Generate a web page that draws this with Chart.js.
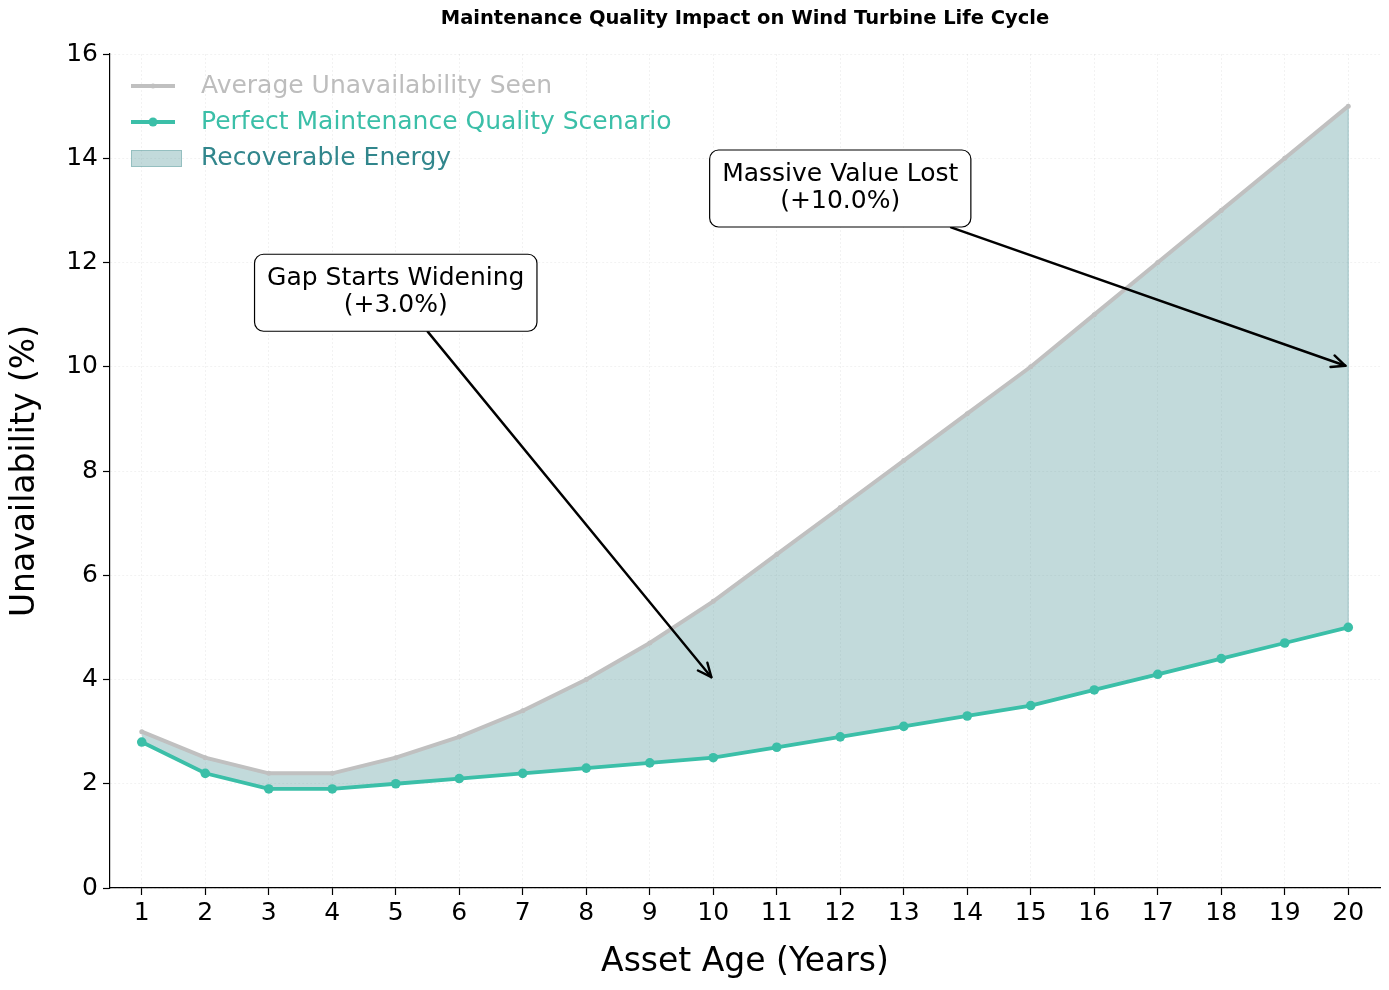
<!DOCTYPE html>
<html><head><meta charset="utf-8">
<script src="https://cdn.jsdelivr.net/npm/chart.js@4.4.0/dist/chart.umd.min.js"></script>
<style>html,body{margin:0;padding:0;background:#fff;} canvas{display:block;}</style>
</head><body>
<canvas id="c" width="1389" height="990"></canvas>
<script>
const years = ['1','2','3','4','5','6','7','8','9','10','11','12','13','14','15','16','17','18','19','20'];
const averageUnavailability = [3.0,2.5,2.2,2.2,2.5,2.9,3.4,4.0,4.7,5.5,6.4,7.3,8.2,9.1,10.0,11.0,12.0,13.0,14.0,15.0];
const perfectMaintenance = [2.8,2.2,1.9,1.9,2.0,2.1,2.2,2.3,2.4,2.5,2.7,2.9,3.1,3.3,3.5,3.8,4.1,4.4,4.7,5.0];
const seriesNames = ['Average Unavailability Seen','Perfect Maintenance Quality Scenario','Recoverable Energy'];
const chartTitle = 'Maintenance Quality Impact on Wind Turbine Life Cycle';
const xTitle = 'Asset Age (Years)';
const yTitle = 'Unavailability (%)';
const annotationsList = [
  {lines:['Gap Starts Widening','(+3.0%)'], textAt:['5',11.42], tip:['10',4]},
  {lines:['Massive Value Lost','(+10.0%)'], textAt:['12',13.42], tip:['20',10]}
];

const FONT = '"DejaVu Sans", sans-serif';
const GRAY = '#c0c0c0';
const TEAL = '#3bbfa8';
const FILL = 'rgba(95,158,160,0.38)';
const FILLEDGE = 'rgba(95,158,160,0.55)';
const FILLTEXT = '#31868c';

function arrow(ctx, x0, y0, x1, y1){
  ctx.save();
  ctx.strokeStyle = '#000'; ctx.lineWidth = 2.4; ctx.lineCap = 'round'; ctx.lineJoin='round';
  ctx.beginPath(); ctx.moveTo(x0,y0); ctx.lineTo(x1,y1); ctx.stroke();
  const a = Math.atan2(y1-y0, x1-x0), L = 15, h = 0.42;
  ctx.beginPath();
  ctx.moveTo(x1 - L*Math.cos(a-h), y1 - L*Math.sin(a-h));
  ctx.lineTo(x1, y1);
  ctx.lineTo(x1 - L*Math.cos(a+h), y1 - L*Math.sin(a+h));
  ctx.stroke();
  ctx.restore();
}
function roundRect(ctx,x,y,w,h,r){
  ctx.beginPath();
  ctx.moveTo(x+r,y); ctx.lineTo(x+w-r,y); ctx.arcTo(x+w,y,x+w,y+r,r);
  ctx.lineTo(x+w,y+h-r); ctx.arcTo(x+w,y+h,x+w-r,y+h,r);
  ctx.lineTo(x+r,y+h); ctx.arcTo(x,y+h,x,y+h-r,r);
  ctx.lineTo(x,y+r); ctx.arcTo(x,y,x+r,y,r); ctx.closePath();
}

const fillEdge = {
  id:'fillEdge',
  beforeDatasetsDraw(chart){
    const ctx = chart.ctx, xs = chart.scales.x, ys = chart.scales.y;
    const i = years.length - 1;
    const x = xs.getPixelForValue(i);
    ctx.save();
    ctx.strokeStyle = FILLEDGE; ctx.lineWidth = 1;
    ctx.beginPath();
    ctx.moveTo(x, ys.getPixelForValue(averageUnavailability[i]));
    ctx.lineTo(x, ys.getPixelForValue(perfectMaintenance[i]));
    ctx.stroke();
    ctx.restore();
  }
};

const decor = {
  id:'decor',
  afterDraw(chart){
    const ctx = chart.ctx, xs = chart.scales.x, ys = chart.scales.y, ca = chart.chartArea;
    ctx.save();
    ctx.fillStyle = '#000'; ctx.textAlign='center'; ctx.textBaseline='middle';
    ctx.font = 'bold 19.5px ' + FONT;
    ctx.fillText(chartTitle, (ca.left+ca.right)/2, 19);
    ctx.font = '33px ' + FONT;
    ctx.fillText(xTitle, (ca.left+ca.right)/2, 962);
    ctx.save(); ctx.translate(25, (ca.top+ca.bottom)/2); ctx.rotate(-Math.PI/2);
    ctx.fillText(yTitle, 0, 0); ctx.restore();

    const lx = 131, lt = 201;
    ctx.font = '25px ' + FONT; ctx.textAlign='left';
    ctx.strokeStyle = GRAY; ctx.lineWidth = 4;
    ctx.beginPath(); ctx.moveTo(lx,86); ctx.lineTo(lx+44,86); ctx.stroke();
    ctx.fillStyle = GRAY; ctx.beginPath(); ctx.arc(lx+22,86,2.5,0,Math.PI*2); ctx.fill();
    ctx.fillStyle = '#bdbdbd'; ctx.fillText(seriesNames[0], lt, 86);
    ctx.strokeStyle = TEAL;
    ctx.beginPath(); ctx.moveTo(lx,122); ctx.lineTo(lx+44,122); ctx.stroke();
    ctx.fillStyle = TEAL; ctx.beginPath(); ctx.arc(lx+22,122,4.5,0,Math.PI*2); ctx.fill();
    ctx.fillText(seriesNames[1], lt, 122);
    ctx.fillStyle = FILL; ctx.fillRect(lx, 150, 51, 17);
    ctx.strokeStyle = 'rgba(95,158,160,0.45)'; ctx.lineWidth = 1; ctx.strokeRect(lx+0.5, 150.5, 50, 16);
    ctx.fillStyle = FILLTEXT; ctx.fillText(seriesNames[2], lt, 158);

    ctx.font = '25px ' + FONT; ctx.textAlign='center';
    annotationsList.forEach(an => {
      const cx = xs.getPixelForValue(years.indexOf(an.textAt[0]));
      const cy = ys.getPixelForValue(an.textAt[1]);
      const tx = xs.getPixelForValue(years.indexOf(an.tip[0]));
      const ty = ys.getPixelForValue(an.tip[1]);
      const tw = Math.max(...an.lines.map(l => ctx.measureText(l).width));
      const bw = tw + 25, bh = 77;
      const bx = cx - bw/2, by = cy - bh/2;
      const dx = tx - cx, dy = ty - cy;
      let t = Math.min(Math.abs((bw/2)/dx || Infinity), Math.abs((bh/2)/dy || Infinity));
      const sx = cx + dx*t*1.01, sy = cy + dy*t*1.01;
      const len = Math.hypot(dx,dy);
      const ex = tx - dx/len*3, ey = ty - dy/len*3;
      arrow(ctx, sx, sy, ex, ey);
      ctx.fillStyle = '#fff'; ctx.strokeStyle='#000'; ctx.lineWidth = 1.2;
      roundRect(ctx, bx, by, bw, bh, 9); ctx.fill(); ctx.stroke();
      ctx.fillStyle = '#000';
      ctx.fillText(an.lines[0], cx, cy - 14);
      ctx.fillText(an.lines[1], cx, cy + 13);
    });
    ctx.restore();
  }
};

new Chart(document.getElementById('c'), {
  type:'line',
  data:{
    labels: years,
    datasets:[
      {label: seriesNames[0], data: averageUnavailability, borderColor: GRAY, backgroundColor: GRAY,
       borderWidth: 4, pointRadius: 2.5, pointBorderWidth: 0, pointBackgroundColor: GRAY, fill:false, tension:0},
      {label: seriesNames[1], data: perfectMaintenance, borderColor: TEAL, backgroundColor: FILL,
       borderWidth: 3.8, pointRadius: 4.8, pointBorderWidth: 0, pointBackgroundColor: TEAL, fill:'-1', tension:0}
    ]
  },
  options:{
    responsive:false, animation:false, devicePixelRatio:1,
    layout:{padding:{top:54, right:9, left:0, bottom:0}},
    plugins:{legend:{display:false}, title:{display:false}, tooltip:{enabled:false},
      filler:{drawTime:'beforeDatasetsDraw'}},
    scales:{
      x:{type:'category', offset:true,
        grid:{color:'rgba(0,0,0,0.05)', lineWidth:1, tickColor:'#000', tickLength:7, tickWidth:1.2, offset:false},
        border:{color:'#000', width:1.2, dash:[2,2]},
        ticks:{color:'#000', font:{family:FONT, size:25}, padding:3, maxRotation:0, autoSkip:false},
        afterFit(s){ s.height = 102; }
      },
      y:{min:0, max:16,
        grid:{color:'rgba(0,0,0,0.05)', lineWidth:1, tickColor:'#000', tickLength:7, tickWidth:1.2},
        border:{color:'#000', width:1.2, dash:[2,2]},
        ticks:{stepSize:2, color:'#000', font:{family:FONT, size:25}, padding:5},
        afterFit(s){ s.width = 110; }
      }
    }
  },
  plugins:[fillEdge, decor]
});
</script>
</body></html>
